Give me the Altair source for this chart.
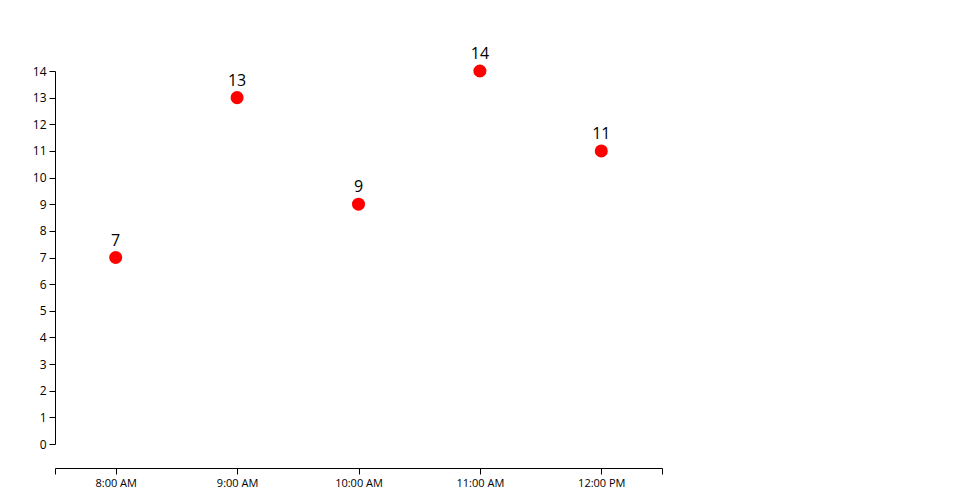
import altair as alt
import pandas as pd

times = ["2020-01-01T08:00:00", "2020-01-01T09:00:00", "2020-01-01T10:00:00",
         "2020-01-01T11:00:00", "2020-01-01T12:00:00"]
values = [7, 13, 9, 14, 11]
y_ticks = list(range(0, 15))

df = pd.DataFrame({"time": times, "value": values})

FONT = "Open Sans"

x_domain = [alt.DateTime(year=2020, month=1, date=1, hours=7, minutes=30),
            alt.DateTime(year=2020, month=1, date=1, hours=12, minutes=30)]
x_tick_values = [alt.DateTime(year=2020, month=1, date=1, hours=7, minutes=30)] + \
    [alt.DateTime(year=2020, month=1, date=1, hours=h) for h in range(8, 13)] + \
    [alt.DateTime(year=2020, month=1, date=1, hours=12, minutes=30)]

x_enc = alt.X(
    "time:T",
    scale=alt.Scale(domain=x_domain, nice=False),
    axis=alt.Axis(
        title=None, grid=False, values=x_tick_values, offset=24,
        labelExpr="minutes(datum.value) == 30 ? '' : timeFormat(datum.value, '%-I:%M %p')",
        domainColor="black", tickColor="black", tickSize=6, labelPadding=3,
        labelColor="black", labelFont=FONT, labelFontSize=11, labelFlush=False,
        labelOverlap=False,
    ),
)
y_enc = alt.Y(
    "value:Q",
    scale=alt.Scale(domain=[0, 14], nice=False, zero=True),
    axis=alt.Axis(
        title=None, grid=False, values=y_ticks,
        domainColor="black", tickColor="black", tickSize=6, labelPadding=3,
        labelColor="black", labelFont=FONT, labelFontSize=12, labelFlush=False,
        labelOverlap=False,
    ),
)

base = alt.Chart(df).encode(x=x_enc, y=y_enc)

points = base.mark_circle(color="#ff0000", opacity=1, size=170)
labels = base.mark_text(
    dy=-12, fontSize=16, font=FONT, color="black", align="center", baseline="alphabetic"
).encode(text="value:Q")

chart = (points + labels).properties(
    width=607, height=373,
    autosize=alt.AutoSizeParams(type="none"),
    padding={"left": 47, "top": 63, "right": 60, "bottom": 50},
).configure_view(stroke=None)

chart.save("out.html", embed_options={"renderer": "svg", "actions": False})
